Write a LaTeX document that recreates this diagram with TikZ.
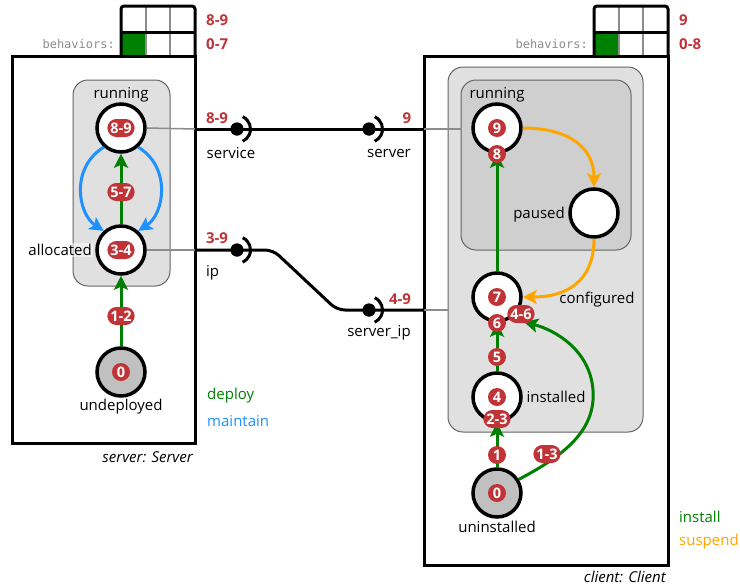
\documentclass[tikz,border=0pt]{standalone}
\usepackage{fontspec}
\setmainfont{Open Sans}
\newfontfamily\behfont{DejaVu Sans Mono}
\usetikzlibrary{arrows.meta}
\definecolor{bred}{RGB}{192,52,56}
\definecolor{dgreen}{RGB}{0,128,0}
\definecolor{mblue}{RGB}{30,144,255}
\definecolor{sorange}{RGB}{255,165,0}
\definecolor{grpfill}{RGB}{224,224,224}
\definecolor{grpfilltwo}{RGB}{207,207,207}
\definecolor{grpline}{RGB}{100,100,100}
\definecolor{txtgray}{RGB}{140,140,140}
\definecolor{lnkgray}{RGB}{140,140,140}
\definecolor{initfill}{RGB}{192,192,192}
\begin{document}
\begin{tikzpicture}[x=1pt,y=-1pt,font=\fontsize{15}{18}\selectfont,
  statenode/.style={circle,draw=black,line width=3.5pt,minimum size=48pt,inner sep=0pt,fill=white},
  badge/.style={fill=bred,text=white,font=\bfseries\fontsize{14.5}{14.5}\selectfont,rounded corners=9pt,minimum height=18pt,minimum width=18pt,inner xsep=3pt,inner ysep=0pt},
  lbl/.style={inner sep=1pt},
  redlbl/.style={text=bred,font=\bfseries\fontsize{15}{18}\selectfont,inner sep=1pt},
  behlbl/.style={text=txtgray,font=\behfont\fontsize{12}{14}\selectfont,inner sep=1pt},
  grp/.style={draw=grpline,line width=1pt,rounded corners=15pt},
  comp/.style={draw=black,line width=3pt},
  arr/.style={line width=3pt,-{Stealth[length=14pt,width=14pt,inset=3pt]}},
  deployarr/.style={arr,draw=dgreen},
  maintarr/.style={arr,draw=mblue},
  installarr/.style={arr,draw=dgreen},
  suspendarr/.style={arr,draw=sorange},
  portdot/.style={circle,fill=black,minimum size=13pt,inner sep=0pt},
  socket/.style={line width=3pt,draw=black},
  wire/.style={line width=3pt,draw=black},
  innerwire/.style={line width=1.5pt,draw=lnkgray}
]
\useasboundingbox (0,0) rectangle (740,587);

% ---------- behavior grids ----------
\fill[dgreen] (121,32) rectangle (145.7,56);
\draw[lnkgray,line width=2pt] (145.7,6) -- (145.7,56) (170.3,6) -- (170.3,56);
\draw[black,line width=3pt] (121,32) -- (195,32);
\draw[black,line width=3pt,rounded corners=3pt] (121,56) -- (121,6) -- (195,6) -- (195,56);
\node[redlbl,anchor=west] (sg1) at (205,20) {8-9};
\node[redlbl,anchor=west] (sg2) at (205,44) {0-7};
\node[behlbl,anchor=east] (sbeh) at (116,44) {behaviors:};

\fill[dgreen] (594,32) rectangle (618.7,56);
\draw[lnkgray,line width=2pt] (618.7,6) -- (618.7,56) (643.3,6) -- (643.3,56);
\draw[black,line width=3pt] (594,32) -- (668,32);
\draw[black,line width=3pt,rounded corners=3pt] (594,56) -- (594,6) -- (668,6) -- (668,56);
\node[redlbl,anchor=west] (cg1) at (678,20) {9};
\node[redlbl,anchor=west] (cg2) at (678,44) {0-8};
\node[behlbl,anchor=east] (cbeh) at (589,44) {behaviors:};

% ---------- component boxes ----------
\draw[comp] (12,56) rectangle (195,443);
\node[lbl,anchor=east,font=\itshape\fontsize{15}{18}\selectfont] (sname) at (194,457) {server: Server};
\draw[comp] (424,56) rectangle (668,565);
\node[lbl,anchor=east,font=\itshape\fontsize{15}{18}\selectfont] (cname) at (667,577) {client: Client};

% ---------- groups ----------
\draw[grp,fill=grpfill] (73,80) rectangle (170,286);
\draw[grp,fill=grpfill] (448,67) rectangle (643,432);
\draw[grp,fill=grpfilltwo] (461,80) rectangle (631,250);

% ---------- server states ----------
\node[lbl] (srunlbl) at (121,95) {running};
\node[statenode] (srun) at (121,128) {};
\node[statenode] (salloc) at (121,250) {};
\node[lbl,fill=white,fill opacity=0.5,text opacity=1,anchor=east] (salloclbl) at (93,250) {allocated};
\node[statenode,fill=initfill] (sund) at (121,372) {};
\node[lbl] (sundlbl) at (121,407) {undeployed};

% ---------- client states ----------
\node[lbl] (crunlbl) at (497,95) {running};
\node[statenode] (crun) at (497,128) {};
\node[statenode] (cpause) at (594,213) {};
\node[lbl,anchor=east] (cpauselbl) at (566,215) {paused};
\node[statenode] (cconf) at (497,297) {};
\node[lbl] (cconflbl) at (597,300) {configured};
\node[statenode] (cinst) at (497,397) {};
\node[lbl] (cinstlbl) at (556,397) {installed};
\node[statenode,fill=initfill] (cun) at (497,493) {};
\node[lbl] (cunlbl) at (497,527) {uninstalled};

% ---------- ports ----------
\coordinate (sbox1) at (195,129);
\coordinate (sbox2) at (195,250);
\coordinate (cbox1) at (424,129);
\coordinate (cbox2) at (424,310);
\coordinate (cgrpin) at (461,129);
\coordinate (cgrpout) at (448,310);
\coordinate (bend1) at (273,250);
\coordinate (bend2) at (337,310);
\node[portdot] (pservice) at (237,129) {};
\node[portdot] (pserver) at (369,129) {};
\node[portdot] (pip) at (237,250) {};
\node[portdot] (pserverip) at (369,310) {};

\draw[innerwire] (srun.east) -- (sbox1);
\draw[innerwire] (salloc.east) -- (sbox2);
\draw[innerwire] (cbox1) -- (cgrpin);
\draw[innerwire] (cbox2) -- (cgrpout);
\draw[wire] (sbox1) -- (pservice.center) -- (pserver.center) -- (cbox1);
\draw[wire,rounded corners=8pt] (sbox2) -- (pip.center) -- (bend1) -- (bend2) -- (pserverip.center) -- (cbox2);
\foreach \p in {pservice,pserver,pip,pserverip}{
  \node[portdot] at (\p) {};
  \draw[socket] (\p) ++(-65:13.5) arc[start angle=-65,end angle=65,radius=13.5];
}
\node[redlbl] (lservice) at (217,118) {8-9};
\node[lbl] (tservice) at (231,153) {service};
\node[redlbl] (lserver) at (407,118) {9};
\node[lbl] (tserver) at (389,153) {server};
\node[redlbl] (lip) at (217,238) {3-9};
\node[lbl,anchor=west] (tip) at (205,273) {ip};
\node[redlbl] (lserverip) at (400,299) {4-9};
\node[lbl] (tserverip) at (379,333) {server\_ip};

% ---------- server transitions ----------
\draw[deployarr] (sund) -- (salloc);
\draw[deployarr] (salloc) -- (srun);
\draw[maintarr] (srun.228) .. controls (70,168) and (78,214) .. (salloc.132);
\draw[maintarr] (srun.-48) .. controls (172,168) and (164,214) .. (salloc.48);

% ---------- client transitions ----------
\coordinate (cmid) at (593,390);
\draw[installarr] (cun) -- (cinst);
\draw[installarr] (cinst) -- (cconf);
\draw[installarr] (cconf) -- (crun);
\draw[installarr] (cun.32) .. controls (565,455) and (596,430) .. (cmid) .. controls (590,350) and (555,330) .. (524,322);
\draw[suspendarr] (crun.east) .. controls (572,128) and (594,150) .. (cpause.north);
\draw[suspendarr] (cpause.south) .. controls (594,282) and (566,297) .. (cconf.east);

% ---------- badges ----------
\node[badge] (b1) at (121,128) {8-9};
\node[badge] (b2) at (121,192) {5-7};
\node[badge] (b3) at (121,250) {3-4};
\node[badge] (b4) at (121,316) {1-2};
\node[badge] (b5) at (121,372) {0};
\node[badge] (c1) at (497,128) {9};
\node[badge] (c2) at (497,154) {8};
\node[badge] (c3) at (497,297) {7};
\node[badge] (c4) at (497,323) {6};
\node[badge] (c5) at (521,314) {4-6};
\node[badge] (c6) at (497,357) {5};
\node[badge] (c7) at (497,397) {4};
\node[badge] (c8) at (497,419) {2-3};
\node[badge] (c9) at (497,455) {1};
\node[badge] (c10) at (547,454) {1-3};
\node[badge] (c11) at (497,493) {0};

% ---------- legends ----------
\node[lbl,anchor=west,text=dgreen] (legdeploy) at (206,396) {deploy};
\node[lbl,anchor=west,text=mblue] (legmaint) at (206,421) {maintain};
\node[lbl,anchor=west,text=dgreen] (leginst) at (678,517) {install};
\node[lbl,anchor=west,text=sorange] (legsusp) at (678,542) {suspend};
\end{tikzpicture}
\end{document}
